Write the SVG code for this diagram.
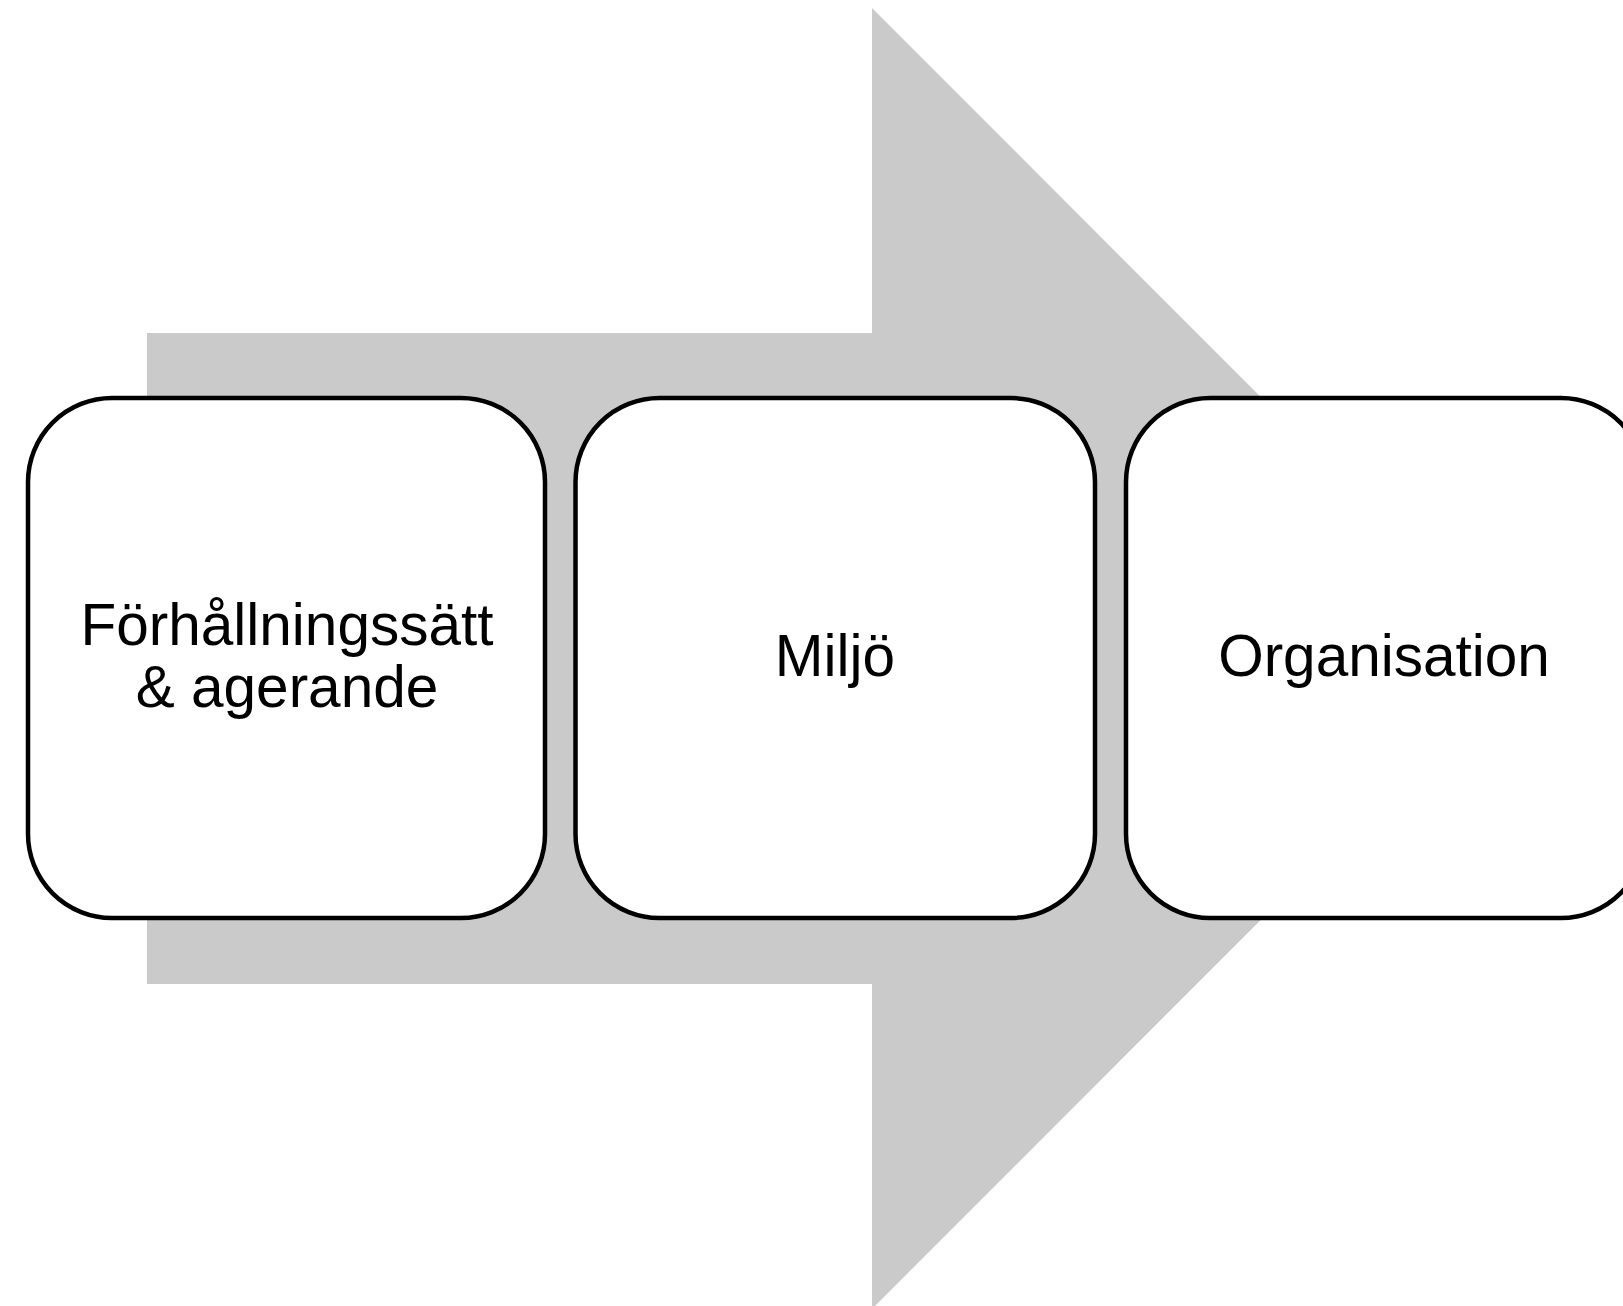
<svg xmlns="http://www.w3.org/2000/svg" width="1623" height="1306" viewBox="0 0 1623 1306">
<style>
.box{fill:#ffffff;stroke:#000000;stroke-width:4.5}
.lbl{font-family:"Liberation Sans",Arial,sans-serif;font-size:58.5px;fill:#000000;text-anchor:middle}
</style>
<rect width="1623" height="1306" fill="#ffffff"/>
<g id="connectors">
<polygon id="arrow" points="147,333 872,333 872,8 1522,658.5 872,1309 872,984 147,984" fill="#cacaca"/>
</g>
<g id="node1">
<rect class="box" x="28" y="398" width="517" height="520" rx="84" ry="84"/>
<text class="lbl" x="287" y="645">Förhållningssätt</text>
<text class="lbl" x="287" y="707">&amp; agerande</text>
</g>
<g id="node2">
<rect class="box" x="575.5" y="398" width="519.5" height="520" rx="84" ry="84"/>
<text class="lbl" x="835" y="676">Miljö</text>
</g>
<g id="node3">
<rect class="box" x="1126" y="398" width="519" height="520" rx="84" ry="84"/>
<text class="lbl" x="1384" y="676">Organisation</text>
</g>
</svg>
